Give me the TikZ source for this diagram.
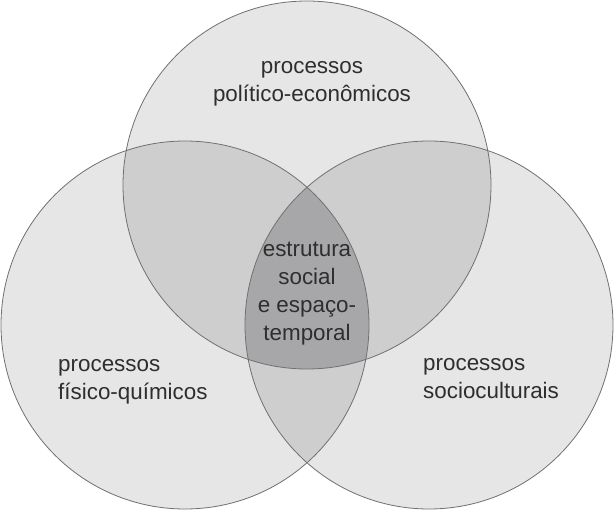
\documentclass[tikz,border=0pt]{standalone}
\usepackage{fontspec}
\setmainfont{Liberation Sans}
\definecolor{fillone}{HTML}{E6E6E6}
\definecolor{filltwo}{HTML}{CECECF}
\definecolor{fillthree}{HTML}{A7A7A9}
\definecolor{edgegray}{HTML}{707070}
\definecolor{ink}{HTML}{2E2E2E}
\tikzset{
  lbl/.style={text=ink, inner sep=0pt, font=\fontsize{22.4}{28}\selectfont},
  ring/.style={draw=edgegray, line width=0.8pt}
}
\begin{document}
\begin{tikzpicture}[x=1pt,y=-1pt]
\useasboundingbox (0,0) rectangle (614,511);
\fill[white] (0,0) rectangle (614,511);
\coordinate (T) at (307,185);
\coordinate (L) at (185,325);
\coordinate (R) at (429,325);
\def\rad{184}
% single fills
\fill[fillone] (T) circle (\rad);
\fill[fillone] (L) circle (\rad);
\fill[fillone] (R) circle (\rad);
% pairwise
\begin{scope}
  \clip (T) circle (\rad);
  \fill[filltwo] (L) circle (\rad);
  \fill[filltwo] (R) circle (\rad);
\end{scope}
\begin{scope}
  \clip (L) circle (\rad);
  \fill[filltwo] (R) circle (\rad);
\end{scope}
% triple
\begin{scope}
  \clip (T) circle (\rad);
  \clip (L) circle (\rad);
  \fill[fillthree] (R) circle (\rad);
\end{scope}
% outlines
\draw[ring] (T) circle (\rad);
\draw[ring] (L) circle (\rad);
\draw[ring] (R) circle (\rad);
% labels
\node[lbl, align=center] (top) at (312,84) {processos\\político-econômicos};
\node[lbl, align=center] (mid) at (307,294) {estrutura\\social\\e espaço-\\temporal};
\node[lbl, align=left, anchor=west] (left) at (58,382) {processos\\físico-químicos};
\node[lbl, align=left, anchor=west] (right) at (423,379) {processos\\socioculturais};
\end{tikzpicture}
\end{document}
